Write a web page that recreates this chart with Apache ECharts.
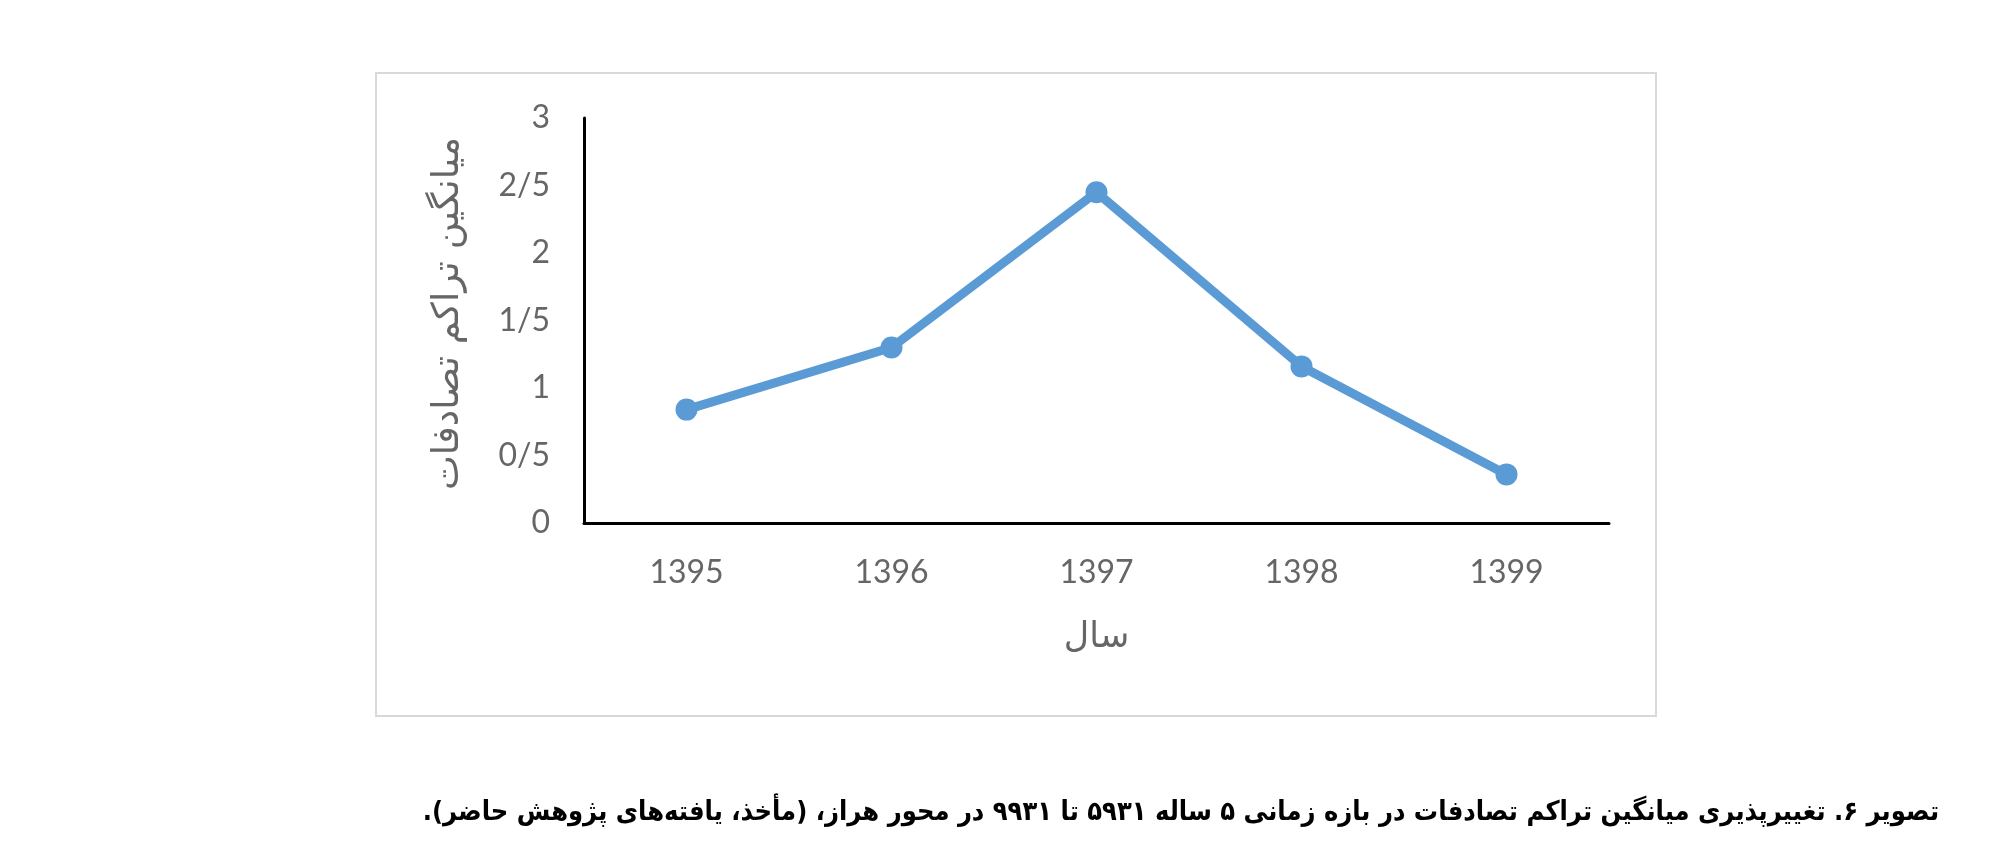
<!DOCTYPE html>
<html>
<head>
<meta charset="utf-8">
<script src="https://cdn.jsdelivr.net/npm/echarts@6/dist/echarts.min.js"></script>
<style>
html,body{margin:0;padding:0;background:#fff;}
#chart{width:2000px;height:864px;}
</style>
</head>
<body>
<div id="chart" dir="rtl"></div>
<script>
const categories = ['1395', '1396', '1397', '1398', '1399'];
const values = [0.84, 1.3, 2.45, 1.16, 0.36];
const yTickLabels = ['0', '0/5', '1', '1/5', '2', '2/5', '3'];
const yAxisName = 'میانگین تراکم تصادفات';
const xAxisName = 'سال';
const caption = 'تصویر ۶. تغییرپذیری میانگین تراکم تصادفات در بازه زمانی ۵ ساله ۵۹۳۱ تا ۹۹۳۱ در محور هراز، (مأخذ، یافته‌های پژوهش حاضر).';

const chart = echarts.init(document.getElementById('chart'), null, {renderer: 'canvas'});
chart.setOption({
  backgroundColor: '#ffffff',
  animation: false,
  title: {
    text: caption,
    right: 56,
    top: 794,
    textStyle: {
      fontFamily: "'DejaVu Sans Condensed', 'DejaVu Sans'",
      fontWeight: 'bold',
      fontSize: 27,
      color: '#000000'
    }
  },
  graphic: [{
    type: 'rect',
    z: -10,
    shape: {x: 376, y: 73, width: 1280, height: 643},
    style: {fill: 'none', stroke: '#D9D9D9', lineWidth: 2}
  }],
  grid: {left: 584, top: 118, right: 391, bottom: 341, containLabel: false},
  xAxis: {
    type: 'category',
    data: categories,
    boundaryGap: true,
    axisLine: {lineStyle: {color: '#000000', width: 3}},
    axisTick: {show: false},
    axisLabel: {margin: 34, fontFamily: 'Lato', fontSize: 32, color: '#666666'},
    name: xAxisName,
    nameLocation: 'middle',
    nameGap: 97,
    nameTextStyle: {fontFamily: 'DejaVu Sans', fontSize: 35, color: '#666666'}
  },
  yAxis: {
    type: 'value',
    min: 0,
    max: 3,
    interval: 0.5,
    splitLine: {show: false},
    axisLine: {show: true, lineStyle: {color: '#000000', width: 3}},
    axisTick: {show: false},
    axisLabel: {
      margin: 34,
      fontFamily: 'Lato',
      fontSize: 32,
      color: '#666666',
      formatter: function (v) { return yTickLabels[Math.round(v / 0.5)]; }
    },
    name: yAxisName,
    nameLocation: 'middle',
    nameGap: 117,
    nameRotate: 90,
    nameTextStyle: {fontFamily: 'DejaVu Sans', fontSize: 37, color: '#666666', padding: [0, 0, 0, 14]}
  },
  series: [{
    type: 'line',
    data: values,
    symbol: 'circle',
    symbolSize: 22,
    lineStyle: {color: '#5B9BD5', width: 9},
    itemStyle: {color: '#5B9BD5'}
  }]
});
</script>
</body>
</html>
